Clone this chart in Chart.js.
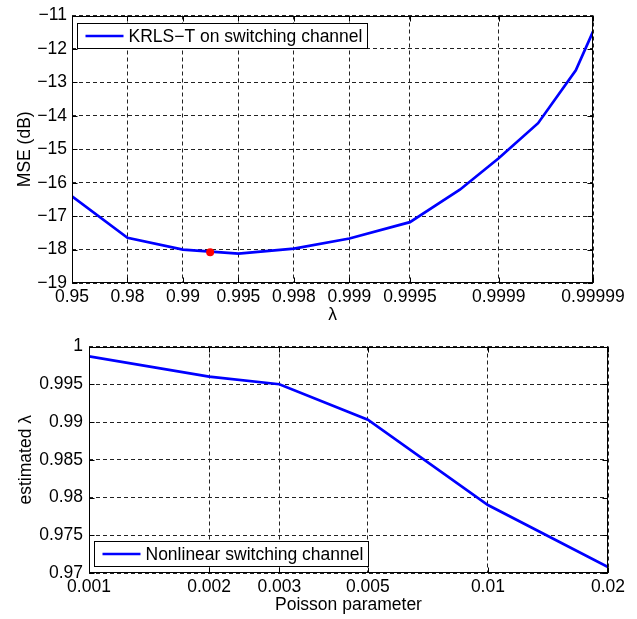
<!DOCTYPE html>
<html>
<head>
<meta charset="utf-8">
<script src="https://cdn.jsdelivr.net/npm/chart.js@4/dist/chart.umd.min.js"></script>
<style>
  body { margin: 0; background: #fff; }
  canvas { display: block; position: absolute; left: 0; }
  #mseChart { top: 0; }
  #lambdaChart { top: 330px; }
</style>
</head>
<body>
<canvas id="mseChart" width="637" height="330"></canvas>
<canvas id="lambdaChart" width="637" height="289"></canvas>
<script>
// top plot: MSE vs forgetting factor (x axis is not uniform, so positions are axis units)
const lambdaTickPos = [0, 1, 2, 3, 4, 5, 6.09, 7.69, 9.39];
const lambdaTickLabels = ['0.95', '0.98', '0.99', '0.995', '0.998', '0.999', '0.9995', '0.9999', '0.99999'];
const msePos = [0, 1, 2, 3, 4, 5, 6.09, 6.99, 7.69, 8.40, 9.08, 9.39];
const mseDb = [-16.41, -17.65, -18.00, -18.12, -17.97, -17.67, -17.18, -16.21, -15.27, -14.22, -12.64, -11.48];
const bestPos = [2.49];
const bestMse = [-18.08];
const mseTicks = [-19, -18, -17, -16, -15, -14, -13, -12, -11];

// bottom plot: estimated lambda vs Poisson parameter
const poissonParam = [0.001, 0.002, 0.003, 0.005, 0.01, 0.02];
const estLambda = [0.9987, 0.9960, 0.9950, 0.9903, 0.9790, 0.9708];
const lambdaTicks = [0.97, 0.975, 0.98, 0.985, 0.99, 0.995, 1];

const FONT = '"Liberation Sans", Arial, Helvetica, sans-serif';
const FSIZE = 17.5;
Chart.defaults.font.family = FONT;
Chart.defaults.font.size = FSIZE;
Chart.defaults.color = '#000';

const minus = v => (v < 0 ? '\u2212' + Math.abs(v) : String(v));

// box, inner tick marks and boxed legend like the matlab figure
const frame = {
  id: 'frame',
  afterDraw(chart, args, opts) {
    const { ctx, chartArea: a, scales } = chart;
    const L = Math.round(a.left) + 0.5, R = Math.round(a.right) - 0.5;
    const T = Math.round(a.top) + 0.5, B = Math.round(a.bottom) - 0.5;
    ctx.save();
    ctx.strokeStyle = '#000';
    ctx.lineWidth = 1;
    ctx.setLineDash([]);
    ctx.beginPath();
    scales.x.ticks.forEach((t, i) => {
      const px = Math.round(scales.x.getPixelForTick(i)) + 0.5;
      ctx.moveTo(px, B); ctx.lineTo(px, B - 5);
      ctx.moveTo(px, T); ctx.lineTo(px, T + 5);
    });
    scales.y.ticks.forEach((t, i) => {
      const py = Math.round(scales.y.getPixelForTick(i)) + 0.5;
      ctx.moveTo(L, py); ctx.lineTo(L + 5, py);
      ctx.moveTo(R, py); ctx.lineTo(R - 5, py);
    });
    ctx.stroke();
    ctx.strokeRect(L, T, R - L, B - T);

    const ds = chart.data.datasets[0];
    ctx.font = FSIZE + 'px ' + FONT;
    const w = Math.round(ctx.measureText(ds.label).width) + 56;
    const h = 25;
    const x0 = L + 5;
    const y0 = opts.where === 'top' ? T + 7 : B - 6 - h;
    ctx.fillStyle = '#fff';
    ctx.fillRect(x0, y0, w, h);
    ctx.strokeRect(x0, y0, w, h);
    ctx.strokeStyle = ds.borderColor;
    ctx.lineWidth = ds.borderWidth;
    ctx.beginPath();
    ctx.moveTo(x0 + 8, y0 + h / 2);
    ctx.lineTo(x0 + 46, y0 + h / 2);
    ctx.stroke();
    ctx.fillStyle = '#000';
    ctx.textBaseline = 'middle';
    ctx.textAlign = 'left';
    ctx.fillText(ds.label, x0 + 51, y0 + h / 2 + 1);
    ctx.restore();
  }
};

const gridStyle = { color: '#222', lineWidth: 1, drawTicks: false };
const borderStyle = { display: false, dash: [4, 3] };

new Chart(document.getElementById('mseChart'), {
  type: 'line',
  data: {
    datasets: [{
      label: 'KRLS\u2212T on switching channel',
      data: msePos.map((x, i) => ({ x: x, y: mseDb[i] })),
      borderColor: '#0000ff',
      borderWidth: 2.7,
      pointRadius: 0,
      fill: false,
      order: 2
    }, {
      label: 'minimum',
      data: bestPos.map((x, i) => ({ x: x, y: bestMse[i] })),
      showLine: false,
      pointRadius: 4,
      pointBackgroundColor: '#ff0000',
      pointBorderWidth: 0,
      order: 1
    }]
  },
  options: {
    responsive: false,
    animation: false,
    devicePixelRatio: 1,
    layout: { padding: { top: 6, right: 44, left: 0, bottom: 0 } },
    plugins: { legend: { display: false }, tooltip: { enabled: false }, frame: { where: 'top' } },
    scales: {
      x: {
        type: 'linear',
        min: lambdaTickPos[0],
        max: lambdaTickPos[lambdaTickPos.length - 1],
        afterBuildTicks: s => { s.ticks = lambdaTickPos.map(v => ({ value: v })); },
        afterFit: s => { s.height = 47; },
        ticks: { autoSkip: false, maxRotation: 0, padding: 4, callback: (v, i) => lambdaTickLabels[i] },
        grid: gridStyle,
        border: borderStyle,
        title: { display: true, text: '\u03bb', padding: { top: 0, bottom: 4 } }
      },
      y: {
        min: -19,
        max: -11,
        afterBuildTicks: s => { s.ticks = mseTicks.map(v => ({ value: v })); },
        afterFit: s => { s.width = 72; },
        ticks: { padding: 5, callback: v => minus(v) },
        grid: gridStyle,
        border: borderStyle,
        title: { display: true, text: 'MSE (dB)', padding: { top: 15, bottom: 0 } }
      }
    }
  },
  plugins: [frame]
});

new Chart(document.getElementById('lambdaChart'), {
  type: 'line',
  data: {
    datasets: [{
      label: 'Nonlinear switching channel',
      data: poissonParam.map((x, i) => ({ x: x, y: estLambda[i] })),
      borderColor: '#0000ff',
      borderWidth: 2.7,
      pointRadius: 0,
      fill: false
    }]
  },
  options: {
    responsive: false,
    animation: false,
    devicePixelRatio: 1,
    layout: { padding: { top: 13, right: 29, left: 0, bottom: 0 } },
    plugins: { legend: { display: false }, tooltip: { enabled: false }, frame: { where: 'bottom' } },
    scales: {
      x: {
        type: 'logarithmic',
        min: poissonParam[0],
        max: poissonParam[poissonParam.length - 1],
        afterBuildTicks: s => { s.ticks = poissonParam.map(v => ({ value: v })); },
        afterFit: s => { s.height = 46; },
        ticks: { autoSkip: false, maxRotation: 0, padding: 4, callback: v => String(v) },
        grid: gridStyle,
        border: borderStyle,
        title: { display: true, text: 'Poisson parameter', padding: { top: 0, bottom: 3 } }
      },
      y: {
        min: 0.97,
        max: 1,
        afterBuildTicks: s => { s.ticks = lambdaTicks.map(v => ({ value: v })); },
        afterFit: s => { s.width = 89; },
        ticks: { padding: 6, callback: v => String(Number(v.toFixed(3))) },
        grid: gridStyle,
        border: borderStyle,
        title: { display: true, text: 'estimated \u03bb', padding: { top: 16, bottom: 0 } }
      }
    }
  },
  plugins: [frame]
});
</script>
</body>
</html>
